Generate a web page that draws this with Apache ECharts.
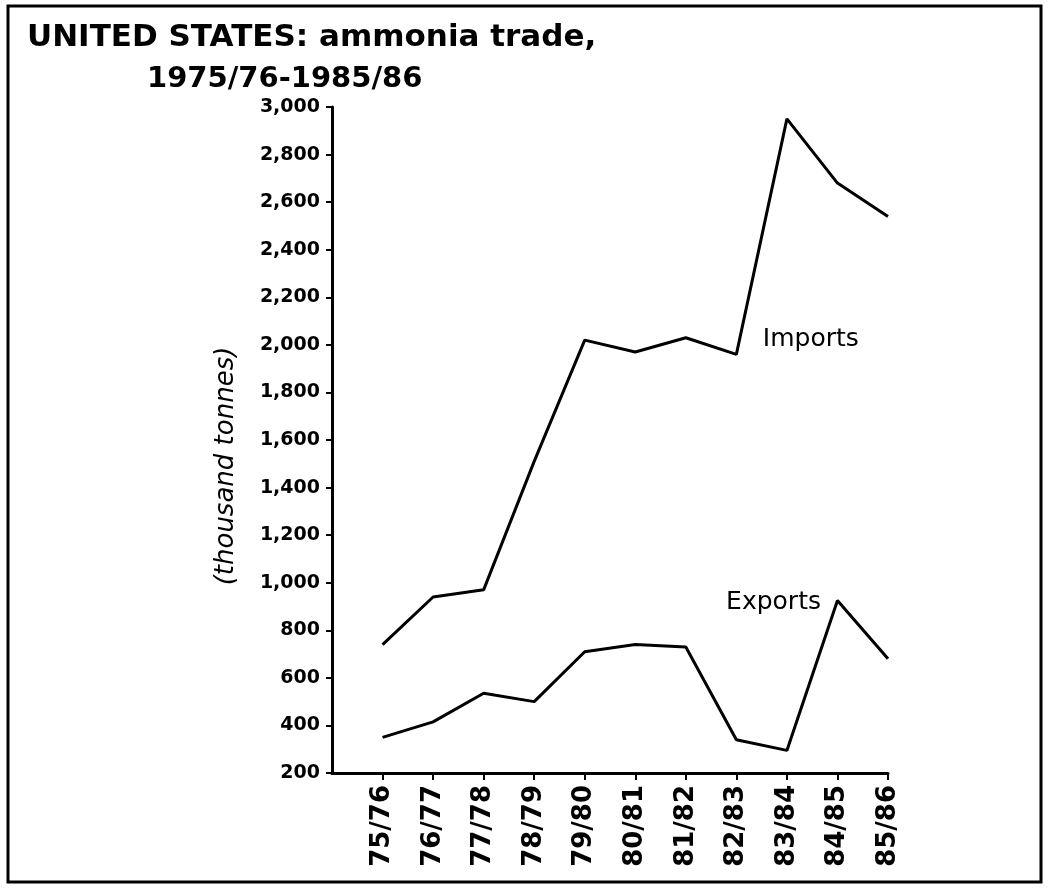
<!DOCTYPE html>
<html>
<head>
<meta charset="utf-8">
<script src="https://cdn.jsdelivr.net/npm/echarts@6/dist/echarts.min.js"></script>
<style>
  html, body { margin: 0; padding: 0; background: #fff; }
  #main { width: 1050px; height: 889px; }
</style>
</head>
<body>
<div id="main"></div>
<script>
// crop years, one per x tick
const categories = ["75/76", "76/77", "77/78", "78/79", "79/80", "80/81", "81/82", "82/83", "83/84", "84/85", "85/86"];
// thousand tonnes
const imports = [740, 940, 970, 1510, 2020, 1970, 2030, 1960, 2950, 2680, 2540];
const exports = [350, 415, 535, 500, 710, 740, 730, 340, 295, 925, 680];
const yTicks = [200, 400, 600, 800, 1000, 1200, 1400, 1600, 1800, 2000, 2200, 2400, 2600, 2800, 3000];

const chart = echarts.init(document.getElementById("main"));

const labelFont = "DejaVu Sans";
const tickIndex = categories.map(function (c, i) { return i; });

function toPoints(values, labelIndex, label) {
  return values.map(function (v, i) {
    if (i === labelIndex) {
      return { value: [i, v], label: label };
    }
    return [i, v];
  });
}

const option = {
  backgroundColor: "#fff",
  animation: false,
  title: [
    {
      text: "UNITED STATES: ammonia trade,",
      left: 22,
      top: 17,
      textStyle: { fontFamily: labelFont, fontWeight: "bold", fontSize: 31, color: "#000" },
    },
    {
      text: "1975/76-1985/86",
      left: 142,
      top: 60,
      textStyle: { fontFamily: labelFont, fontWeight: "bold", fontSize: 29, color: "#000" },
    },
  ],
  grid: { left: 332, right: 162, top: 107, bottom: 116 },
  xAxis: {
    type: "value",
    min: -1,
    max: 10,
    interval: 1,
    splitLine: { show: false },
    axisLine: { onZero: false, lineStyle: { color: "#000", width: 3 } },
    axisTick: {
      customValues: tickIndex,
      length: 7,
      lineStyle: { color: "#000", width: 2 },
    },
    axisLabel: {
      customValues: tickIndex,
      rotate: 90,
      margin: 12,
      color: "#000",
      fontFamily: labelFont,
      fontWeight: "bold",
      fontSize: 26,
      formatter: function (v) { return categories[v] || ""; },
    },
  },
  yAxis: {
    type: "value",
    min: 200,
    max: 3000,
    interval: 200,
    splitLine: { show: false },
    axisLine: { show: true, onZero: false, lineStyle: { color: "#000", width: 3 } },
    axisTick: { show: true, length: 6, lineStyle: { color: "#000", width: 2 } },
    axisLabel: {
      margin: 12,
      color: "#000",
      fontFamily: labelFont,
      fontWeight: "bold",
      fontSize: 19,
      formatter: function (v) { return yTicks.indexOf(v) >= 0 ? v.toLocaleString("en-US") : ""; },
    },
  },
  graphic: [
    {
      type: "rect",
      shape: { x: 8, y: 6, width: 1033, height: 876 },
      style: { fill: "none", stroke: "#000", lineWidth: 3 },
      silent: true,
    },
    {
      type: "text",
      x: 226,
      y: 466,
      rotation: Math.PI / 2,
      style: {
        text: "(thousand tonnes)",
        fontFamily: labelFont,
        fontStyle: "italic",
        fontSize: 26,
        fill: "#000",
        align: "center",
        verticalAlign: "middle",
      },
      silent: true,
    },
  ],
  series: [
    {
      name: "Imports",
      type: "line",
      symbol: "circle",
      symbolSize: 1,
      itemStyle: { color: "rgba(0,0,0,0)" },
      lineStyle: { color: "#000", width: 3 },
      data: toPoints(imports, 7, {
        show: true,
        position: "right",
        distance: 26,
        offset: [0, -15],
        formatter: "Imports",
        color: "#000",
        fontFamily: labelFont,
        fontSize: 25,
      }),
    },
    {
      name: "Exports",
      type: "line",
      symbol: "circle",
      symbolSize: 1,
      itemStyle: { color: "rgba(0,0,0,0)" },
      lineStyle: { color: "#000", width: 3 },
      data: toPoints(exports, 9, {
        show: true,
        position: "left",
        distance: 16,
        offset: [0, 2],
        formatter: "Exports",
        color: "#000",
        fontFamily: labelFont,
        fontSize: 25,
      }),
    },
  ],
};

chart.setOption(option);
</script>
</body>
</html>
